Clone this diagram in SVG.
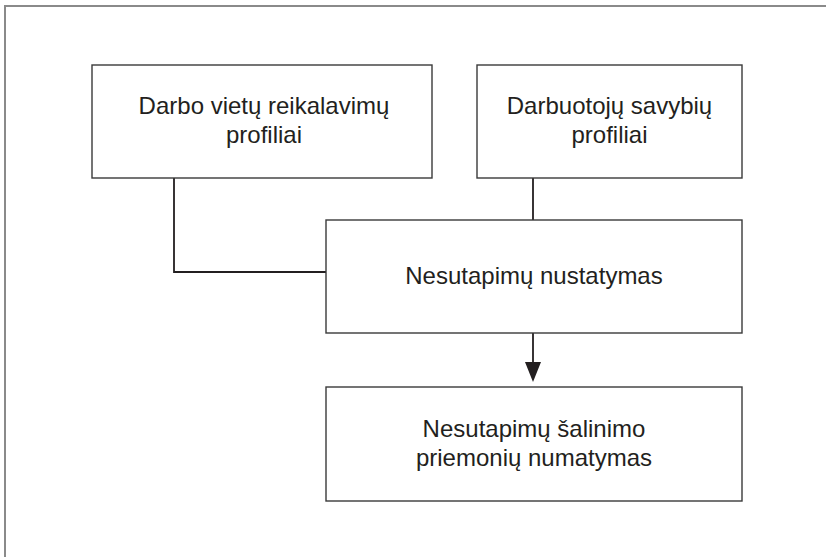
<svg xmlns="http://www.w3.org/2000/svg" width="826" height="557" viewBox="0 0 826 557">
<style>
.frame{fill:none;stroke:#8a8a8a;stroke-width:2}
.box{fill:#fff;stroke:#3a3a3a;stroke-width:1.4}
.conn{fill:none;stroke:#231f20;stroke-width:1.8}
.lbl{font-family:"Liberation Sans",Arial,sans-serif;font-size:24px;fill:#231f20;text-anchor:middle}
</style>
<rect width="826" height="557" fill="#fff"/>
<path class="frame" d="M5 557 V6 H826"/>
<g id="connectors">
<path class="conn" d="M174 178 V272 H326"/>
<path class="conn" d="M533 178 V220"/>
<path class="conn" d="M533 333 V363"/>
<polygon points="525,362 541,362 533,382" fill="#231f20"/>
</g>
<g id="node-darbo-vietu">
<rect class="box" x="92" y="65" width="340" height="113"/>
<text class="lbl" x="264" y="114">Darbo vietų reikalavimų</text>
<text class="lbl" x="264" y="143">profiliai</text>
</g>
<g id="node-darbuotoju">
<rect class="box" x="477" y="65" width="265" height="113"/>
<text class="lbl" x="609.5" y="114">Darbuotojų savybių</text>
<text class="lbl" x="609.5" y="143">profiliai</text>
</g>
<g id="node-nesutapimu-nustatymas">
<rect class="box" x="326" y="220" width="416" height="113"/>
<text class="lbl" x="534" y="284">Nesutapimų nustatymas</text>
</g>
<g id="node-salinimo">
<rect class="box" x="326" y="387" width="416" height="114"/>
<text class="lbl" x="534" y="437">Nesutapimų šalinimo</text>
<text class="lbl" x="534" y="466">priemonių numatymas</text>
</g>
</svg>
